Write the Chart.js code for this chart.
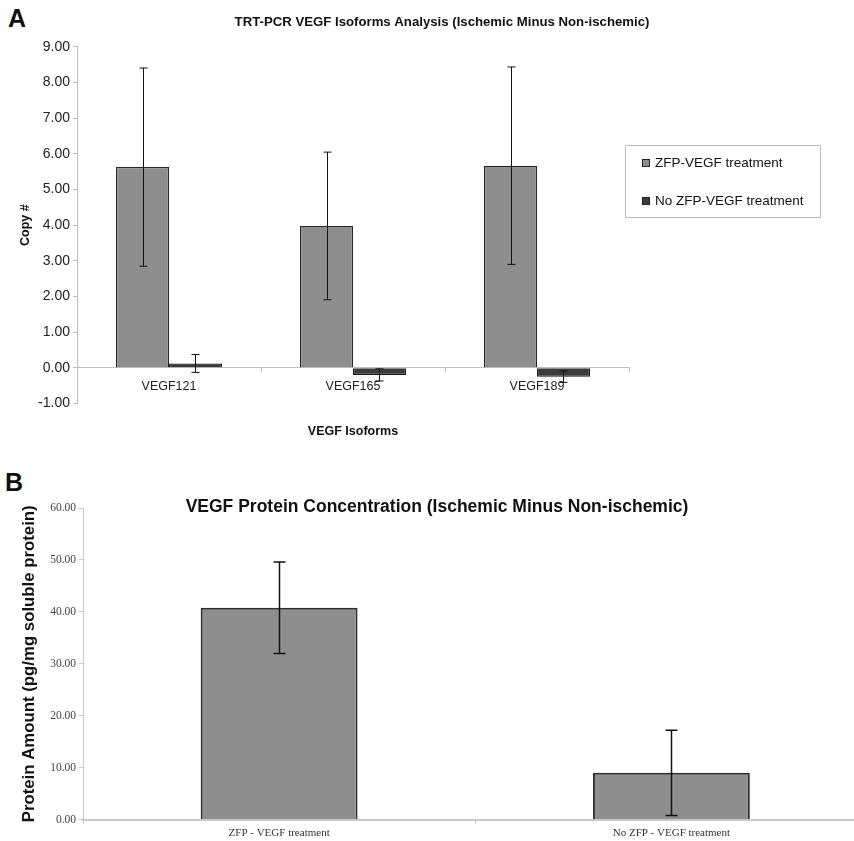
<!DOCTYPE html>
<html><head><meta charset="utf-8">
<script src="https://cdn.jsdelivr.net/npm/chart.js@4.4.1/dist/chart.umd.min.js"></script>
<style>
html,body{margin:0;padding:0;background:#fff;overflow:hidden;width:854px;height:841px;}
#wrap{position:relative;width:854px;height:841px;overflow:hidden;background:#fff;}
.letter{position:absolute;font:bold 25px "Liberation Sans",Arial,sans-serif;color:#111;line-height:25px;}
#boxA{position:absolute;left:0;top:0;width:884px;height:445px;}
#boxB{position:absolute;left:0;top:460px;width:874px;height:386px;}
#legend{position:absolute;left:625px;top:145px;width:196px;height:73px;border:1px solid #bdbdbd;box-sizing:border-box;font:13.5px "Liberation Sans",Arial,sans-serif;color:#111;}
.item{position:absolute;left:16px;height:16px;line-height:16px;white-space:nowrap;}
.sw{display:inline-block;width:6px;height:6px;border:1px solid #222;margin-right:5px;vertical-align:0px;}
</style></head>
<body><div id="wrap">
<div class="letter" style="left:8px;top:6px">A</div>
<div class="letter" style="left:5px;top:470px">B</div>
<div id="boxA"><canvas id="cA" width="884" height="445"></canvas></div>
<div id="boxB"><canvas id="cB" width="874" height="386"></canvas></div>
<div id="legend">
  <div class="item" style="top:9px"><span class="sw" id="swA"></span><span id="lgA"></span></div>
  <div class="item" style="top:47px"><span class="sw" id="swB"></span><span id="lgB"></span></div>
</div>
</div>
<script>
// ---- Data: panel A ----
const categoriesA = ['VEGF121', 'VEGF165', 'VEGF189'];
const seriesNamesA = ['ZFP-VEGF treatment', 'No ZFP-VEGF treatment'];
const zfpValues = [5.63, 3.98, 5.67];
const zfpErr = [2.78, 2.07, 2.77];
const noZfpValues = [0.12, -0.20, -0.25];
const noZfpErr = [0.25, 0.17, 0.16];
const yTicksA = [-1, 0, 1, 2, 3, 4, 5, 6, 7, 8, 9];
// ---- Data: panel B ----
const categoriesB = ['ZFP - VEGF treatment', 'No ZFP - VEGF treatment'];
const proteinValues = [40.8, 9.0];
const proteinErr = [8.8, 8.2];
const yTicksB = [0, 10, 20, 30, 40, 50, 60];

const SANS = '"Liberation Sans", Arial, sans-serif';
const SERIF = '"Liberation Serif", "Times New Roman", serif';
const colZfp = '#8e8e8e', colNo = '#3b3b3b';

const errorBars = {
  id: 'errbars',
  afterDatasetsDraw(chart, args, opts) {
    const ctx = chart.ctx, ys = chart.scales.y;
    chart.data.datasets.forEach((ds, i) => {
      if (!ds.errors) return;
      const meta = chart.getDatasetMeta(i);
      meta.data.forEach((bar, j) => {
        const v = ds.data[j], e = ds.errors[j];
        const x = Math.round(bar.x) + 0.5;
        const yt = ys.getPixelForValue(v + e), yb = ys.getPixelForValue(v - e);
        ctx.save();
        ctx.strokeStyle = opts.color; ctx.lineWidth = opts.width;
        ctx.beginPath();
        ctx.moveTo(x, yt); ctx.lineTo(x, yb);
        ctx.moveTo(x - opts.cap, yt); ctx.lineTo(x + opts.cap, yt);
        ctx.moveTo(x - opts.cap, yb); ctx.lineTo(x + opts.cap, yb);
        ctx.stroke(); ctx.restore();
      });
    });
  }
};

function dummyRight(w) {
  return { type: 'linear', position: 'right', display: true,
    ticks: { display: false }, grid: { display: false, drawTicks: false },
    border: { display: false }, afterFit: s => { s.width = w; } };
}

// ---- Chart A ----
new Chart(document.getElementById('cA'), {
  type: 'bar',
  data: {
    labels: categoriesA,
    datasets: [
      { label: seriesNamesA[0], data: zfpValues, errors: zfpErr, backgroundColor: colZfp,
        borderColor: '#262626', borderWidth: 1.2, xAxisID: 'x', yAxisID: 'y',
        barPercentage: 1.0, categoryPercentage: 0.576 },
      { label: seriesNamesA[1], data: noZfpValues, errors: noZfpErr, backgroundColor: colNo,
        borderColor: '#1a1a1a', borderWidth: 1.2, xAxisID: 'x', yAxisID: 'y',
        barPercentage: 1.0, categoryPercentage: 0.576 }
    ]
  },
  plugins: [errorBars],
  options: {
    responsive: false, animation: false,
    layout: { padding: 0 },
    plugins: {
      legend: { display: false }, tooltip: { enabled: false },
      title: { display: true, text: 'TRT-PCR VEGF Isoforms Analysis (Ischemic Minus Non-ischemic)',
        color: '#111', font: { family: SANS, size: 13.2, weight: 'bold' },
        padding: { top: 14.1, bottom: 17.06 } },
      errbars: { color: '#111', width: 1, cap: 4 }
    },
    scales: {
      x: { type: 'category', position: { y: 0 },
        grid: { display: true, drawOnChartArea: false, offset: true, tickLength: 4, color: '#bdbdbd' },
        border: { display: true, color: '#bdbdbd', width: 1 },
        ticks: { padding: 7, color: '#222', font: { family: SANS, size: 12.5 } } },
      x2: { type: 'linear', position: 'bottom', display: true,
        ticks: { display: false }, grid: { display: false, drawTicks: false }, border: { display: false },
        title: { display: true, text: 'VEGF Isoforms', color: '#111',
          font: { family: SANS, size: 12.5, weight: 'bold' }, padding: { top: 20.8, bottom: 5.8 } } },
      y: { type: 'linear', min: yTicksA[0], max: yTicksA[yTicksA.length - 1],
        afterBuildTicks: s => { s.ticks = yTicksA.map(v => ({ value: v })); },
        ticks: { callback: v => Number(v).toFixed(2), color: '#222', padding: 3,
          font: { family: SANS, size: 14 } },
        grid: { display: true, drawOnChartArea: false, tickLength: 4, color: '#bdbdbd' },
        border: { color: '#bdbdbd', width: 1 },
        title: { display: true, text: 'Copy #', color: '#111',
          font: { family: SANS, size: 12.5, weight: 'bold' }, padding: { top: 18, bottom: 0 } },
        afterFit: s => { s.width = 77; } },
      y2: dummyRight(255)
    }
  }
});

// ---- HTML legend for A ----
document.getElementById('lgA').textContent = seriesNamesA[0];
document.getElementById('lgB').textContent = seriesNamesA[1];
document.getElementById('swA').style.background = colZfp;
document.getElementById('swB').style.background = colNo;

// ---- Chart B ----
new Chart(document.getElementById('cB'), {
  type: 'bar',
  data: {
    labels: categoriesB,
    datasets: [
      { label: 'VEGF protein', data: proteinValues, errors: proteinErr, backgroundColor: colZfp,
        borderColor: '#2e2e2e', borderWidth: 2, xAxisID: 'x', yAxisID: 'y',
        barPercentage: 0.4, categoryPercentage: 1.0 }
    ]
  },
  plugins: [errorBars],
  options: {
    responsive: false, animation: false,
    layout: { padding: { bottom: 2.4 } },
    plugins: {
      legend: { display: false }, tooltip: { enabled: false },
      title: { display: true, text: 'VEGF Protein Concentration (Ischemic Minus Non-ischemic)',
        color: '#111', font: { family: SANS, size: 17.5, weight: 'bold' },
        padding: { top: 36.5, bottom: -9.5 } },
      errbars: { color: '#111', width: 1.5, cap: 6 }
    },
    scales: {
      x: { type: 'category', position: 'bottom',
        grid: { display: true, drawOnChartArea: false, offset: true, tickLength: 4, color: '#c8c8c8' },
        border: { display: true, color: '#c8c8c8', width: 2 },
        ticks: { padding: 3.4, color: '#333', font: { family: SERIF, size: 11 } } },
      y: { type: 'linear', min: yTicksB[0], max: yTicksB[yTicksB.length - 1],
        afterBuildTicks: s => { s.ticks = yTicksB.map(v => ({ value: v })); },
        ticks: { callback: v => Number(v).toFixed(2), color: '#444', padding: 3,
          font: { family: SERIF, size: 11.5 } },
        grid: { display: true, drawOnChartArea: false, tickLength: 4, color: '#c8c8c8' },
        border: { color: '#c8c8c8', width: 1 },
        title: { display: true, text: 'Protein Amount (pg/mg soluble protein)', color: '#111',
          font: { family: SANS, size: 16.8, weight: 'bold' }, padding: { top: 19, bottom: 0 } },
        afterFit: s => { s.width = 83; } },
      y2: dummyRight(6.5)
    }
  }
});
</script>
</body></html>
